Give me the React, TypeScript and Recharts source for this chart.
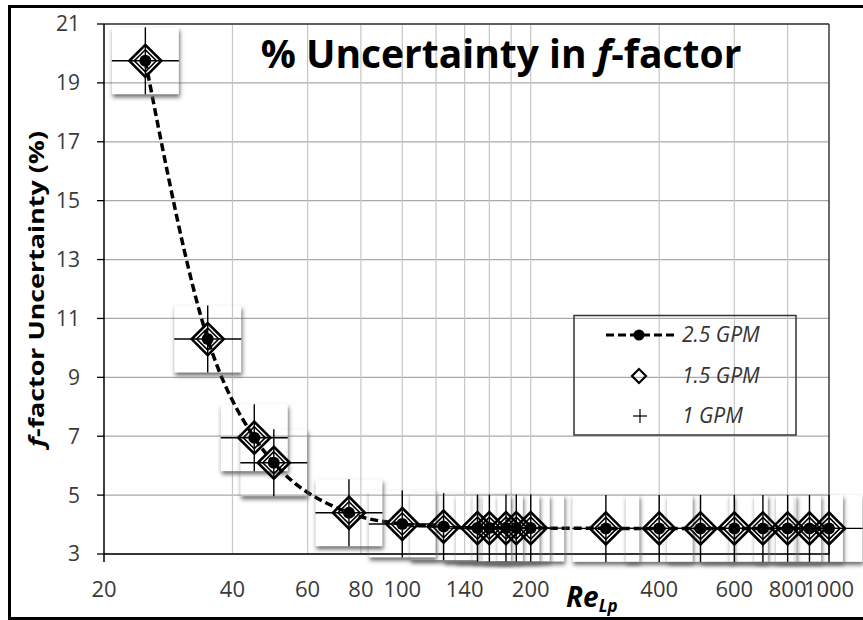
import React from 'react';
import {
  ComposedChart,
  Line,
  Scatter,
  XAxis,
  YAxis,
  CartesianGrid,
  ReferenceLine,
} from 'recharts';

// Re_Lp values of the measured points
const reLp = [25, 35, 45, 50, 75, 100, 125, 150, 160, 175, 185, 200, 300, 400, 500, 600, 700, 800, 900, 1000];
// % uncertainty in f-factor per flow rate
const gpm25 = [19.75, 10.3, 6.95, 6.1, 4.4, 4.02, 3.93, 3.88, 3.88, 3.88, 3.88, 3.88, 3.87, 3.87, 3.87, 3.87, 3.87, 3.87, 3.87, 3.87];
const gpm15 = [19.75, 10.3, 6.95, 6.1, 4.4, 4.02, 3.93, 3.88, 3.88, 3.88, 3.88, 3.88, 3.87, 3.87, 3.87, 3.87, 3.87, 3.87, 3.87, 3.87];
const gpm10 = [19.75, 10.3, 6.95, 6.1, 4.4, 4.02, 3.93, 3.88, 3.88, 3.88, 3.88, 3.88, 3.87, 3.87, 3.87, 3.87, 3.87, 3.87, 3.87, 3.87];

const xTicks = [20, 40, 60, 80, 100, 140, 200, 400, 600, 800, 1000];
const xGrid = [40, 60, 80, 100, 120, 140, 160, 180, 200, 400, 600, 800];
const yTicks = [3, 5, 7, 9, 11, 13, 15, 17, 19, 21];

const pts = (vals: number[]) => reLp.map((re, i) => ({ re, u: vals[i] }));

const FONT = "'Open Sans', 'Noto Sans', sans-serif";

const XTick = (props: any) => {
  const { x, y, payload } = props;
  return (
    <g>
      {payload.value === 20 && <line x1={x} x2={x} y1={y} y2={y + 8} stroke="#000" strokeWidth={1.5} />}
      <text x={x} y={y + 43} textAnchor="middle" fontSize={22} fill="#3a3a3a" fontFamily={FONT}>
        {payload.value}
      </text>
    </g>
  );
};

// pasted squares behind every point: only their soft shadow shows
const Backdrop = (props: any) => {
  const { cx, cy } = props;
  if (cx == null || cy == null) return null;
  const h = 33.5;
  const id = `bd${Math.round(cx)}_${Math.round(cy)}`;
  return (
    <g>
      <defs>
        <filter id={`${id}f`} x="-40%" y="-40%" width="180%" height="180%">
          <feGaussianBlur stdDeviation="2" />
        </filter>
        <mask id={`${id}m`} maskUnits="userSpaceOnUse" x={cx - 60} y={cy - 60} width={120} height={120}>
          <rect x={cx - 60} y={cy - 60} width={120} height={120} fill="#fff" />
          <rect x={cx - h} y={cy - h} width={2 * h} height={2 * h} fill="#000" />
        </mask>
      </defs>
      <rect
        x={cx - h + 1}
        y={cy - h + 3}
        width={2 * h}
        height={2 * h}
        fill="#6a6a6a"
        filter={`url(#${id}f)`}
        mask={`url(#${id}m)`}
      />
    </g>
  );
};

const Diamond = (props: any) => {
  const { cx, cy } = props;
  if (cx == null || cy == null) return null;
  const d = (r: number) => `M${cx},${cy - r}L${cx + r},${cy}L${cx},${cy + r}L${cx - r},${cy}Z`;
  return (
    <g>
      <path d={d(16)} fill="none" stroke="#000" strokeWidth={2.6} />
      <path d={d(11)} fill="none" stroke="#000" strokeWidth={1.6} />
    </g>
  );
};

const Cross = (props: any) => {
  const { cx, cy } = props;
  if (cx == null || cy == null) return null;
  return (
    <g stroke="#000" strokeWidth={1.4}>
      <line x1={cx - 33.5} x2={cx + 33.5} y1={cy} y2={cy} />
      <line x1={cx} x2={cx} y1={cy - 33.5} y2={cy + 33.5} />
    </g>
  );
};

const Dot = (props: any) => {
  const { cx, cy } = props;
  if (cx == null || cy == null) return null;
  return <circle cx={cx} cy={cy} r={6} fill="#000" />;
};

export default function App() {
  return (
    <div
      style={{
        position: 'absolute',
        left: 0,
        top: 0,
        width: 863,
        height: 620,
        overflow: 'hidden',
        background: '#fff',
        fontFamily: FONT,
      }}
    >
      <ComposedChart width={863} height={620} margin={{ top: 24, right: 34, bottom: 26, left: 0 }}>
        <CartesianGrid vertical={false} stroke="#a9a9a9" strokeWidth={1.2} />
        <CartesianGrid horizontal={false} verticalValues={xGrid} stroke="#c6c6c6" strokeWidth={1.2} />
        <XAxis
          dataKey="re"
          type="number"
          scale="log"
          domain={[20, 1000]}
          ticks={xTicks}
          interval={0}
          height={40}
          tickSize={0}
          tickMargin={0}
          tickLine={false}
          tick={<XTick />}
          axisLine={{ stroke: '#000', strokeWidth: 1.5 }}
        />
        <YAxis
          dataKey="u"
          type="number"
          domain={[3, 21]}
          ticks={yTicks}
          interval={0}
          width={104}
          tickSize={7}
          tickMargin={17}
          tickLine={{ stroke: '#000', strokeWidth: 1.3 }}
          axisLine={{ stroke: '#000', strokeWidth: 1.5 }}
          tick={{ fill: '#3a3a3a', fontSize: 21, fontFamily: FONT }}
        />
        <ReferenceLine y={21} stroke="#3a3a3a" strokeWidth={1.5} />
        <ReferenceLine x={1000} stroke="#3a3a3a" strokeWidth={1.5} />
        <Scatter data={pts(gpm10)} dataKey="u" shape={<Backdrop />} isAnimationActive={false} />
        <Line
          data={pts(gpm25)}
          dataKey="u"
          type="monotone"
          stroke="#000"
          strokeWidth={3.5}
          strokeDasharray="8 4"
          dot={false}
          activeDot={false}
          isAnimationActive={false}
        />
        <Scatter data={pts(gpm15)} dataKey="u" shape={<Diamond />} isAnimationActive={false} />
        <Scatter data={pts(gpm10)} dataKey="u" shape={<Cross />} isAnimationActive={false} />
        <Scatter data={pts(gpm25)} dataKey="u" shape={<Dot />} isAnimationActive={false} />
      </ComposedChart>

      <svg
        width={863}
        height={620}
        style={{ position: 'absolute', left: 0, top: 0, pointerEvents: 'none' }}
        fontFamily={FONT}
      >
        <text x={501} y={68} textAnchor="middle" fontSize={39} fontWeight="bold" fill="#000">
          % Uncertainty in <tspan fontStyle="italic">f</tspan>-factor
        </text>
        <text
          x={44}
          y={289}
          transform="rotate(-90 44 289)"
          textAnchor="middle"
          fontSize={22}
          fontWeight="bold"
          fill="#000"
          textLength={316}
          lengthAdjust="spacingAndGlyphs"
        >
          <tspan fontStyle="italic">f</tspan>-factor Uncertainty (%)
        </text>
        <text x={566} y={607} fontSize={28} fontWeight="bold" fontStyle="italic" fill="#000">
          Re
          <tspan fontSize={17} dy={5}>
            Lp
          </tspan>
        </text>

        {/* legend */}
        <rect x={574} y={315.5} width={222} height={119.5} fill="none" stroke="#333" strokeWidth={1.5} />
        <line x1={606} x2={676} y1={335} y2={335} stroke="#000" strokeWidth={3} strokeDasharray="8 4" />
        <circle cx={639} cy={335} r={5.5} fill="#000" />
        <path d="M639,369L646,376L639,383L632,376Z" fill="none" stroke="#000" strokeWidth={2.2} />
        <line x1={633} x2={647} y1={416} y2={416} stroke="#000" strokeWidth={1.2} />
        <line x1={640} x2={640} y1={409} y2={423} stroke="#000" strokeWidth={1.2} />
        <g fontSize={21} fontStyle="italic" fill="#333">
          <text x={682} y={342}>2.5 GPM</text>
          <text x={682} y={383}>1.5 GPM</text>
          <text x={682} y={423}>1 GPM</text>
        </g>
      </svg>

      <div
        style={{
          position: 'absolute',
          left: 8,
          top: 5,
          width: 900,
          height: 615,
          boxSizing: 'border-box',
          borderTop: '3px solid #000',
          borderLeft: '3px solid #000',
          borderBottom: '3px solid #000',
          pointerEvents: 'none',
        }}
      />
    </div>
  );
}
